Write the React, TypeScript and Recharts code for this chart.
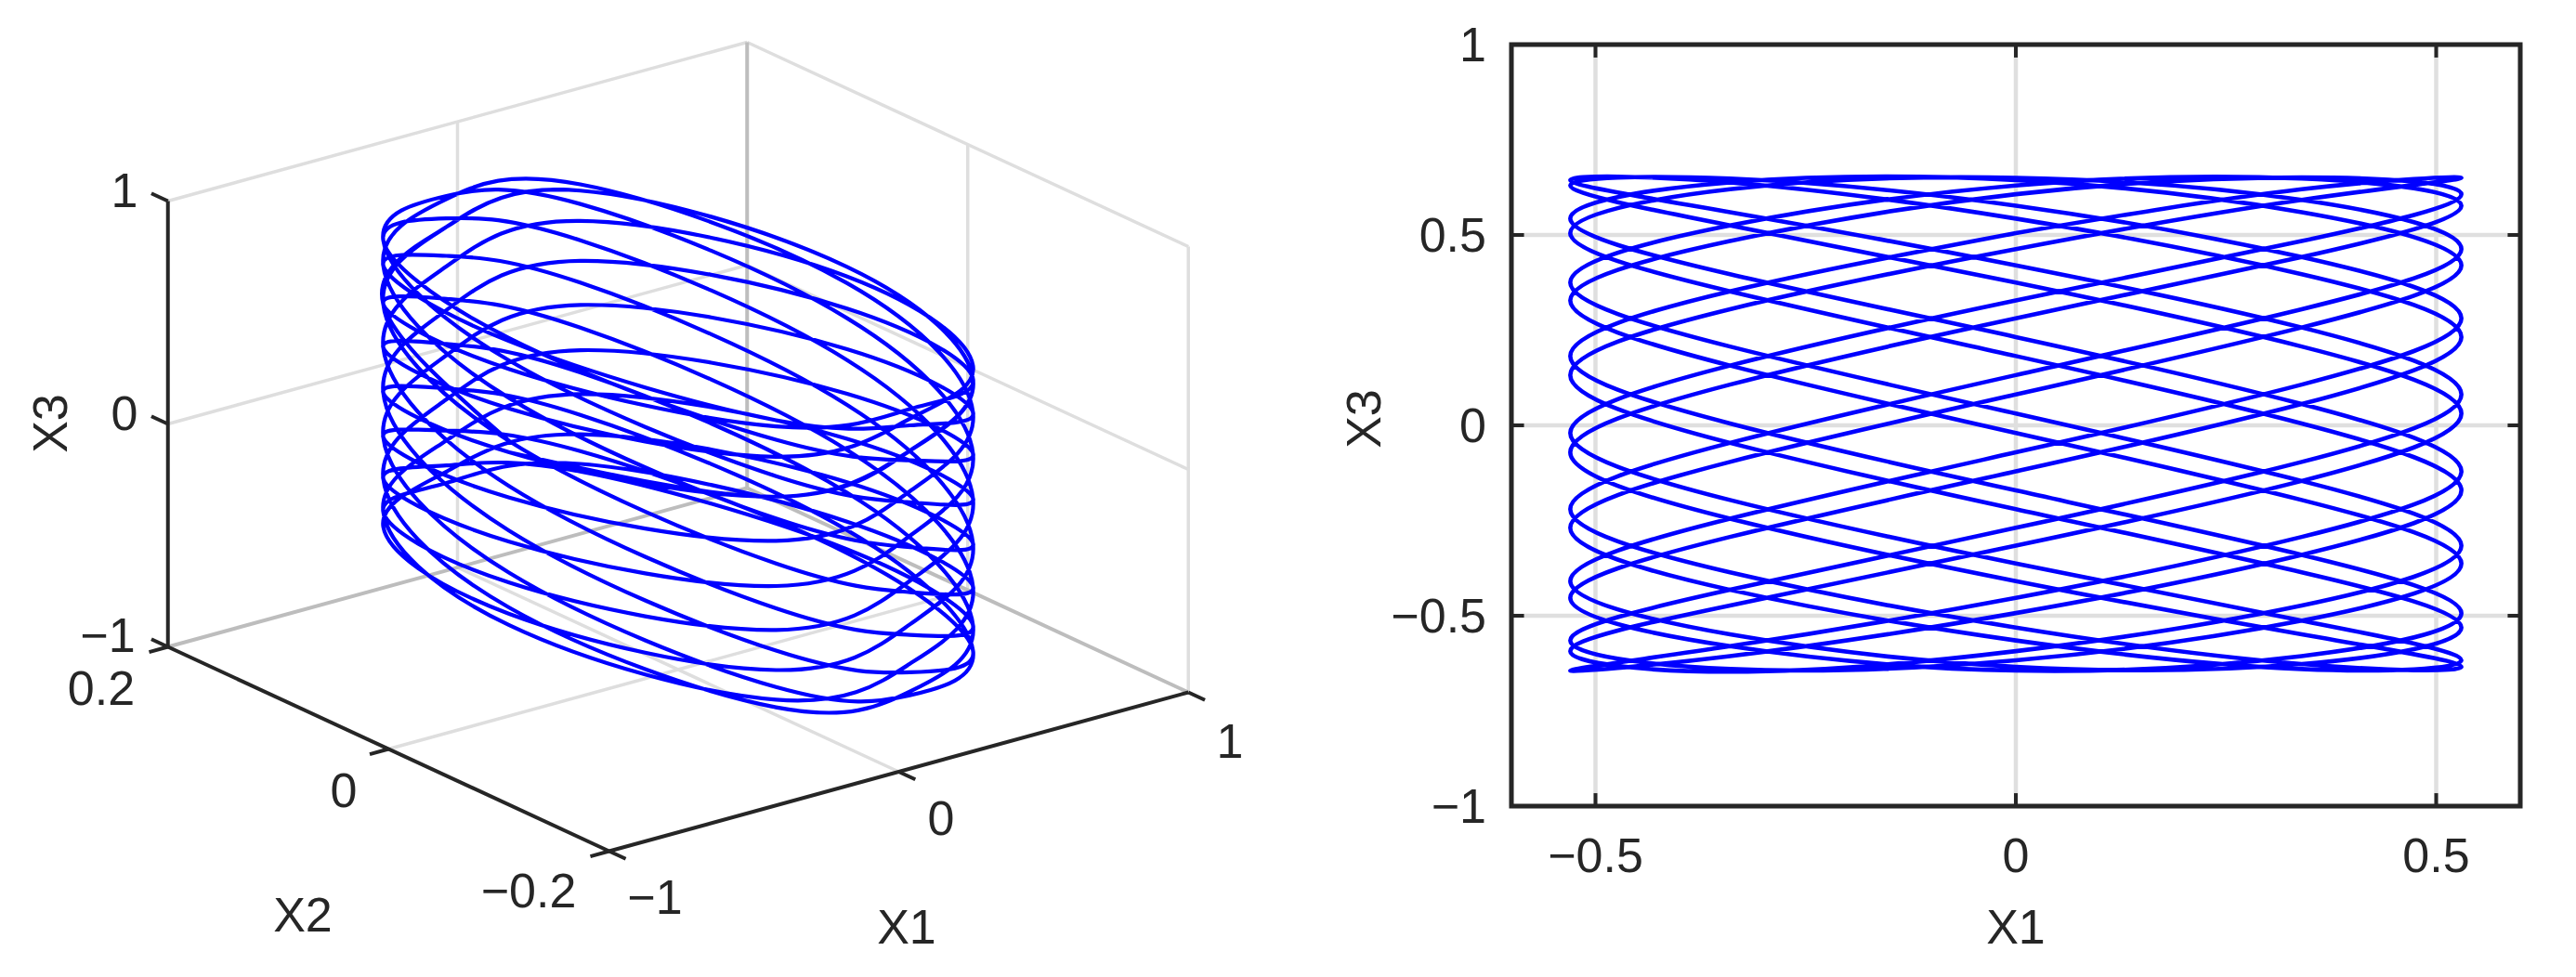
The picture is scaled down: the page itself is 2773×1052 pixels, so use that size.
import { LineChart, Line, XAxis, YAxis, CartesianGrid, ReferenceArea } from 'recharts'

// trajectory, one row = one X1 swing
// (the loop overlaps itself a little at both ends)
const x1Values = [
  -0.53, -0.34, 0, 0.34, 0.53, 0.34, 0, -0.34,
  -0.53, -0.34, 0, 0.34, 0.53, 0.34, 0, -0.34,
  -0.53, -0.34, 0, 0.34, 0.53, 0.34, 0, -0.34,
  -0.53, -0.34, 0, 0.34, 0.53, 0.34, 0, -0.34,
  -0.53, -0.34, 0, 0.34, 0.53, 0.34, 0, -0.34,
  -0.53, -0.34, 0, 0.34, 0.53, 0.34, 0, -0.34,
  -0.53, -0.34, 0, 0.34, 0.53, 0.34, 0, -0.34,
  -0.53, -0.34, 0, 0.34, 0.53, 0.34, 0, -0.34,
  -0.53, -0.34, 0, 0.34, 0.53, 0.34, 0, -0.34,
  -0.53, -0.34, 0, 0.34, 0.53, 0.34, 0, -0.34,
  -0.53, -0.34, 0, 0.34, 0.53, 0.34, 0, -0.34,
  -0.53, -0.34, 0, 0.34, 0.53, 0.34, 0, -0.34,
  -0.53, -0.34, 0, 0.34, 0.53, 0.34, 0, -0.34,
  -0.53, -0.34, 0, 0.34, 0.53, 0.34, 0, -0.34,
  -0.53, -0.34, 0, 0.34, 0.53, 0.34, 0, -0.34,
  -0.53, -0.34, 0, 0.34, 0.53, 0.34, 0, -0.34,
  -0.53, -0.34, 0, 0.34, 0.53, 0.34, 0, -0.34,
  -0.53, -0.34, 0, 0.34, 0.53, 0.34, 0, -0.34,
  -0.53,
]

const x2Values = [
  0.014, -0.178, -0.21, -0.178, -0.014, 0.178, 0.21, 0.178,
  0.014, -0.178, -0.21, -0.178, -0.014, 0.178, 0.21, 0.178,
  0.014, -0.178, -0.21, -0.178, -0.014, 0.178, 0.21, 0.178,
  0.014, -0.178, -0.21, -0.178, -0.014, 0.178, 0.21, 0.178,
  0.014, -0.178, -0.21, -0.178, -0.014, 0.178, 0.21, 0.178,
  0.014, -0.178, -0.21, -0.178, -0.014, 0.178, 0.21, 0.178,
  0.014, -0.178, -0.21, -0.178, -0.014, 0.178, 0.21, 0.178,
  0.014, -0.178, -0.21, -0.178, -0.014, 0.178, 0.21, 0.178,
  0.014, -0.178, -0.21, -0.178, -0.014, 0.178, 0.21, 0.178,
  0.014, -0.178, -0.21, -0.178, -0.014, 0.178, 0.21, 0.178,
  0.014, -0.178, -0.21, -0.178, -0.014, 0.178, 0.21, 0.178,
  0.014, -0.178, -0.21, -0.178, -0.014, 0.178, 0.21, 0.178,
  0.014, -0.178, -0.21, -0.178, -0.014, 0.178, 0.21, 0.178,
  0.014, -0.178, -0.21, -0.178, -0.014, 0.178, 0.21, 0.178,
  0.014, -0.178, -0.21, -0.178, -0.014, 0.178, 0.21, 0.178,
  0.014, -0.178, -0.21, -0.178, -0.014, 0.178, 0.21, 0.178,
  0.014, -0.178, -0.21, -0.178, -0.014, 0.178, 0.21, 0.178,
  0.014, -0.178, -0.21, -0.178, -0.014, 0.178, 0.21, 0.178,
  0.014,
]

const x3Values = [
  0.132, 0.305, 0.463, 0.592, 0.65, 0.62, 0.505, 0.352,
  0.182, 0.005, -0.171, -0.34, -0.493, -0.606, -0.644, -0.58,
  -0.453, -0.293, -0.121, 0.056, 0.232, 0.397, 0.543, 0.638,
  0.644, 0.56, 0.42, 0.257, 0.081, -0.096, -0.269, -0.432,
  -0.565, -0.64, -0.617, -0.513, -0.363, -0.196, -0.02, 0.157,
  0.328, 0.484, 0.607, 0.651, 0.607, 0.484, 0.328, 0.157,
  -0.02, -0.196, -0.363, -0.513, -0.617, -0.64, -0.565, -0.432,
  -0.269, -0.096, 0.081, 0.257, 0.42, 0.56, 0.644, 0.638,
  0.543, 0.397, 0.232, 0.056, -0.121, -0.293, -0.453, -0.58,
  -0.644, -0.606, -0.493, -0.34, -0.171, 0.005, 0.182, 0.352,
  0.505, 0.62, 0.65, 0.592, 0.463, 0.305, 0.132, -0.046,
  -0.22, -0.386, -0.531, -0.627, -0.634, -0.549, -0.409, -0.245,
  -0.071, 0.107, 0.281, 0.442, 0.577, 0.648, 0.63, 0.525,
  0.375, 0.207, 0.031, -0.146, -0.316, -0.473, -0.593, -0.647,
  -0.593, -0.473, -0.316, -0.146, 0.031, 0.207, 0.375, 0.525,
  0.63, 0.648, 0.577, 0.442, 0.281, 0.107, -0.071, -0.245,
  -0.409, -0.549, -0.634, -0.627, -0.531, -0.386, -0.22, -0.046,
  0.132, 0.305, 0.463, 0.592, 0.65, 0.62, 0.505, 0.352,
  0.182,
]

const x1Ticks = [-0.5, 0, 0.5]
const x3Ticks = [-1, -0.5, 0, 0.5, 1]

type P3 = [number, number, number]

// 3D box of the left panel, as [X1, X2, X3] end points
const paleEdges: [P3, P3][] = [
  [[-1, 0.2, 1], [1, 0.2, 1]],
  [[1, 0.2, 1], [1, -0.2, 1]],
  [[1, -0.2, -1], [1, -0.2, 1]],
  [[0, 0.2, -1], [0, 0.2, 1]],
  [[1, 0, -1], [1, 0, 1]],
  [[-1, 0.2, 0], [1, 0.2, 0]],
  [[1, 0.2, 0], [1, -0.2, 0]],
  [[0, 0.2, -1], [0, -0.2, -1]],
  [[-1, 0, -1], [1, 0, -1]],
]
const greyEdges: [P3, P3][] = [
  [[1, 0.2, -1], [1, 0.2, 1]],
  [[-1, 0.2, -1], [1, 0.2, -1]],
  [[1, 0.2, -1], [1, -0.2, -1]],
]
const darkEdges: [P3, P3][] = [
  [[-1, 0.2, -1], [-1, 0.2, 1]],
  [[-1, 0.2, -1], [-1, -0.2, -1]],
  [[-1, -0.2, -1], [1, -0.2, -1]],
  // ticks
  [[-1, 0.2, 1], [-1, 0.215, 1]],
  [[-1, 0.2, 0], [-1, 0.215, 0]],
  [[-1, 0.2, -1], [-1, 0.215, -1]],
  [[-1, 0.2, -1], [-1.065, 0.2, -1]],
  [[-1, 0, -1], [-1.065, 0, -1]],
  [[-1, -0.2, -1], [-1.065, -0.2, -1]],
  [[-1, -0.2, -1], [-1, -0.215, -1]],
  [[0, -0.2, -1], [0, -0.215, -1]],
  [[1, -0.2, -1], [1, -0.215, -1]],
]

const INK = '#262626'
const BLUE = '#0000ff'
const FONT = '"Liberation Sans", Arial, sans-serif'

// oblique view used by the left panel
const project = ([a, b, c]: P3) => ({
  px: 311.75 * a - 1187.5 * b,
  py: 85.5 * a + 550 * b + 240 * c,
})

const flatData = x1Values.map((v, i) => ({ x1: v, x3: x3Values[i] })).slice(6, 143)
const viewData = x1Values.map((v, i) => project([v, x2Values[i], x3Values[i]]))

const fmt = (v: number) => String(v).replace('-', '\u2212')

function Label({ x, y, children, rotate }: { x: number; y: number; children: string; rotate?: boolean }) {
  return (
    <text
      x={x}
      y={y}
      fill={INK}
      fontSize={52}
      textAnchor="middle"
      dominantBaseline="central"
      transform={rotate ? `rotate(-90 ${x} ${y})` : undefined}
    >
      {children}
    </text>
  )
}

function edgeLines(edges: [P3, P3][], stroke: string, width: number, name: string) {
  return edges.map((e, i) => (
    <Line
      key={name + i}
      data={e.map(project)}
      dataKey="py"
      stroke={stroke}
      strokeWidth={width}
      dot={false}
      isAnimationActive={false}
      legendType="none"
    />
  ))
}

function LeftPanel() {
  return (
    <div style={{ position: 'absolute', left: 0, top: 0 }}>
      <LineChart width={1400} height={1052} margin={{ top: 0, right: 0, bottom: 0, left: 0 }}>
        <XAxis hide type="number" dataKey="px" domain={[-730, 670]} allowDataOverflow />
        <YAxis hide type="number" domain={[-571, 481]} allowDataOverflow />
        {edgeLines(paleEdges, '#dedede', 3.5, 'pale')}
        {edgeLines(greyEdges, '#bdbdbd', 4, 'grey')}
        {edgeLines(darkEdges, INK, 4, 'dark')}
        <Line
          data={viewData}
          dataKey="py"
          type="natural"
          stroke={BLUE}
          strokeWidth={4.2}
          dot={false}
          isAnimationActive={false}
        />
      </LineChart>
    </div>
  )
}

function RightPanel() {
  const tickStyle = { fill: INK, fontSize: 52, fontFamily: FONT }
  return (
    <div style={{ position: 'absolute', left: 0, top: 0 }}>
      <LineChart width={2773} height={1052} data={flatData} margin={{ top: 48, right: 60, bottom: 0, left: 0 }}>
        <CartesianGrid stroke="#dfdfdf" strokeWidth={4.5} />
        <XAxis
          type="number"
          dataKey="x1"
          domain={[-0.6, 0.6]}
          ticks={x1Ticks}
          tickFormatter={fmt}
          tick={tickStyle}
          tickLine={false}
          axisLine={false}
          tickSize={0}
          tickMargin={34}
          height={184}
          allowDataOverflow
        />
        <YAxis
          type="number"
          domain={[-1, 1]}
          ticks={x3Ticks}
          tickFormatter={fmt}
          tick={tickStyle}
          tickLine={false}
          axisLine={false}
          tickSize={0}
          tickMargin={27}
          width={1627}
          allowDataOverflow
        />
        {x1Ticks.map((t) => (
          <Line key={'b' + t} data={[{ x1: t, v: -1 }, { x1: t, v: -0.966 }]} dataKey="v" stroke={INK} strokeWidth={4} dot={false} isAnimationActive={false} />
        ))}
        {x1Ticks.map((t) => (
          <Line key={'t' + t} data={[{ x1: t, v: 1 }, { x1: t, v: 0.966 }]} dataKey="v" stroke={INK} strokeWidth={4} dot={false} isAnimationActive={false} />
        ))}
        {x3Ticks.map((t) => (
          <Line key={'l' + t} data={[{ x1: -0.6, v: t }, { x1: -0.585, v: t }]} dataKey="v" stroke={INK} strokeWidth={4} dot={false} isAnimationActive={false} />
        ))}
        {x3Ticks.map((t) => (
          <Line key={'r' + t} data={[{ x1: 0.6, v: t }, { x1: 0.585, v: t }]} dataKey="v" stroke={INK} strokeWidth={4} dot={false} isAnimationActive={false} />
        ))}
        <Line dataKey="x3" type="natural" stroke={BLUE} strokeWidth={4.6} dot={false} isAnimationActive={false} />
        <ReferenceArea x1={-0.6} x2={0.6} y1={-1} y2={1} fill="none" stroke={INK} strokeWidth={5} ifOverflow="visible" />
      </LineChart>
    </div>
  )
}

export default function App() {
  return (
    <div style={{ position: 'absolute', left: 0, top: 0, width: 2773, height: 1052, background: '#fff', overflow: 'hidden' }}>
      <LeftPanel />
      <RightPanel />
      <svg width={2773} height={1052} style={{ position: 'absolute', left: 0, top: 0, fontFamily: FONT }}>
        <Label x={134} y={205}>1</Label>
        <Label x={134} y={445}>0</Label>
        <Label x={116} y={684}>{'\u22121'}</Label>
        <Label x={54} y={456} rotate>X3</Label>
        <Label x={109} y={741}>0.2</Label>
        <Label x={370} y={851}>0</Label>
        <Label x={569} y={959}>{'\u22120.2'}</Label>
        <Label x={326} y={985}>X2</Label>
        <Label x={705} y={966}>{'\u22121'}</Label>
        <Label x={1013} y={881}>0</Label>
        <Label x={1324} y={798}>1</Label>
        <Label x={976} y={998}>X1</Label>
        <Label x={1468} y={451} rotate>X3</Label>
        <Label x={2170} y={998}>X1</Label>
      </svg>
    </div>
  )
}
